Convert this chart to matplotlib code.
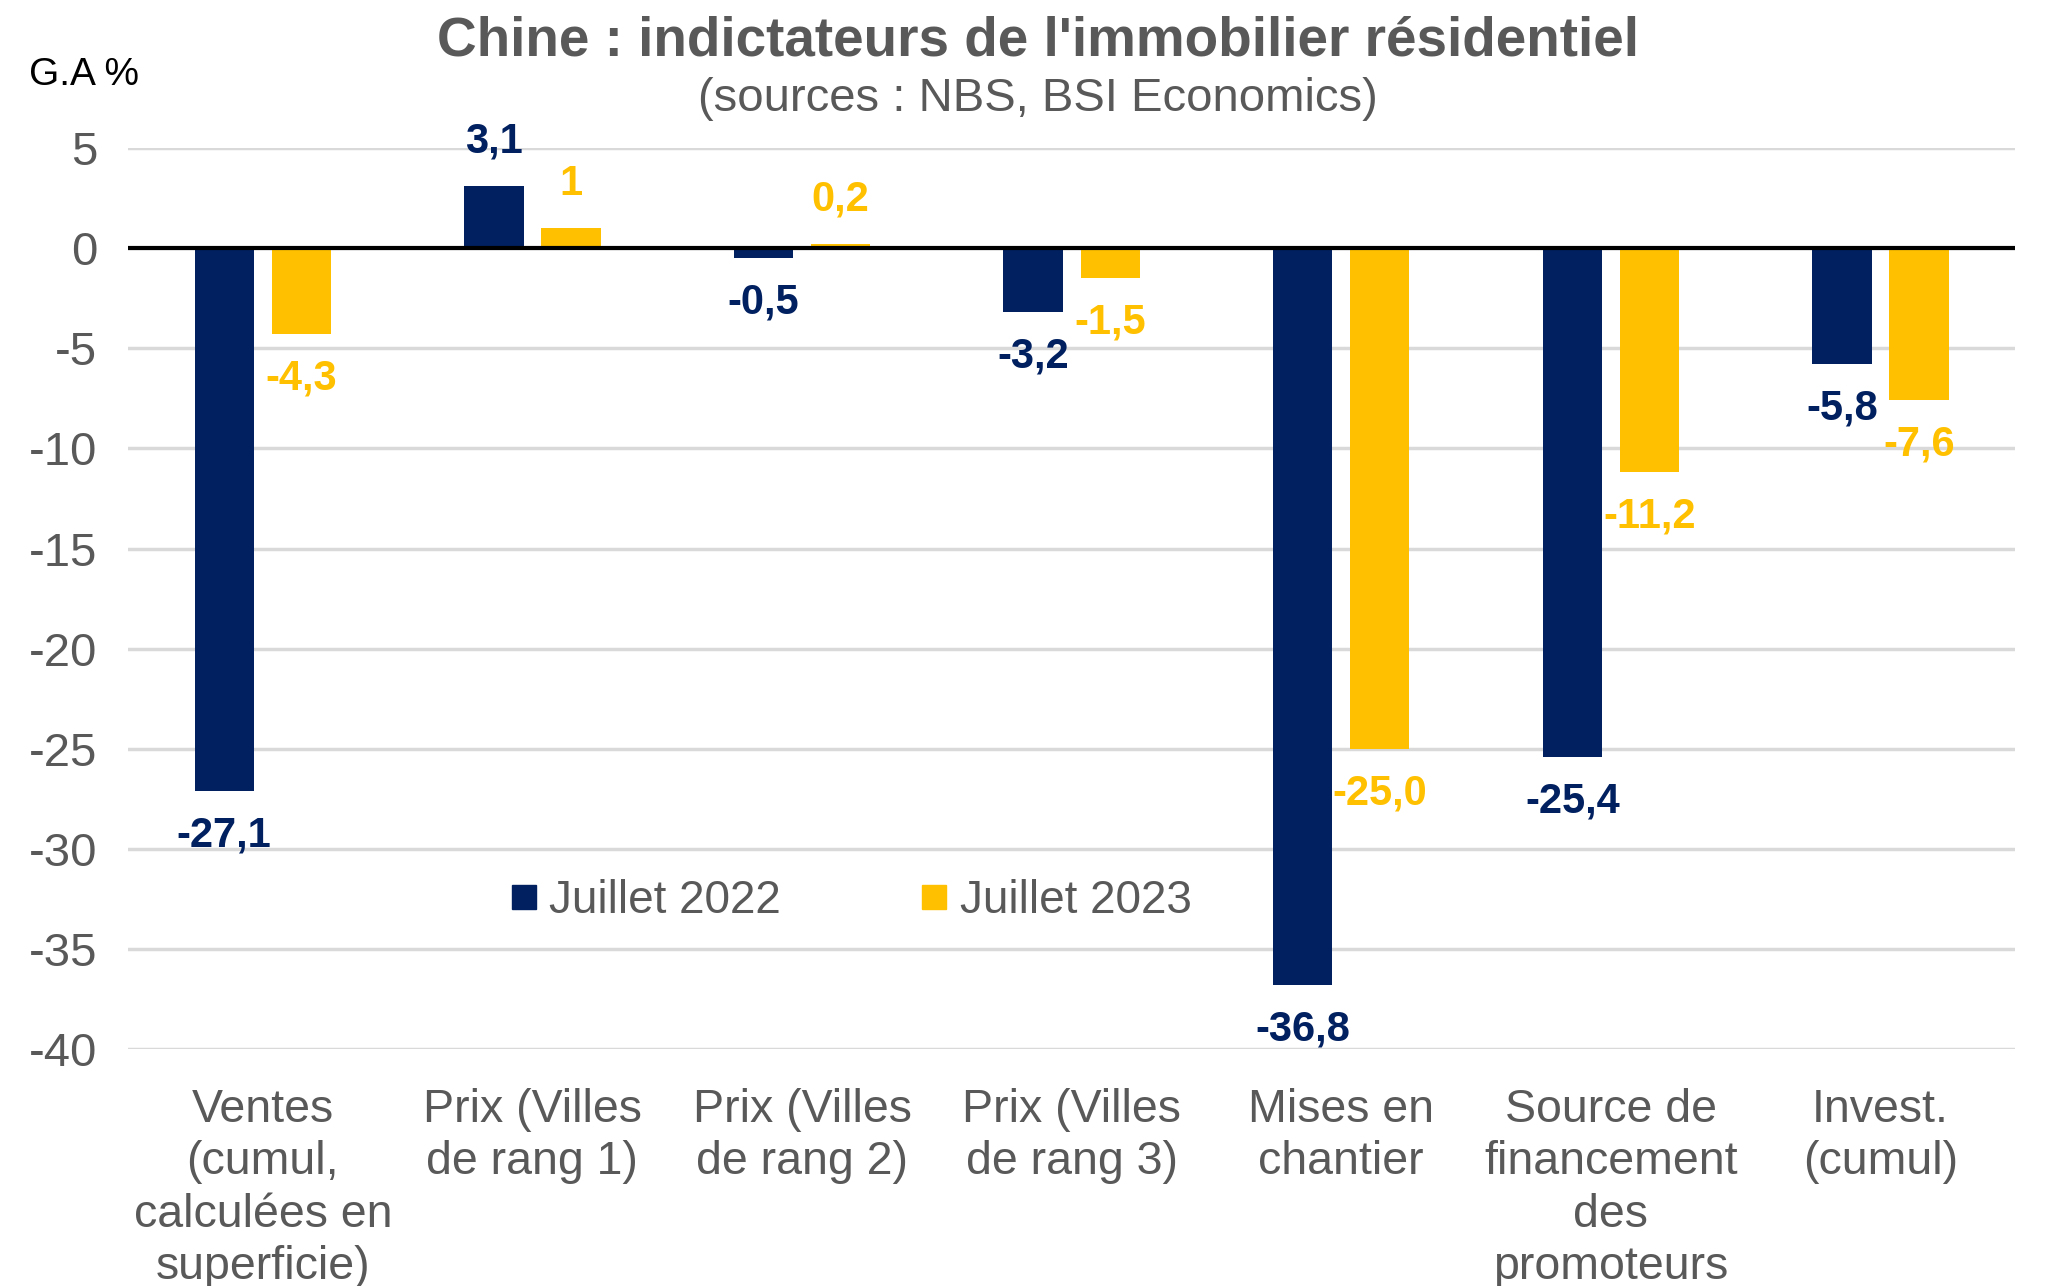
import numpy as np
import matplotlib
matplotlib.use("Agg")
import matplotlib.pyplot as plt
from matplotlib.lines import Line2D

plt.rcParams['font.family'] = ['Liberation Sans', 'DejaVu Sans']

categories = ["Ventes\n(cumul,\ncalculées en\nsuperficie)",
              "Prix (Villes\nde rang 1)",
              "Prix (Villes\nde rang 2)",
              "Prix (Villes\nde rang 3)",
              "Mises en\nchantier",
              "Source de\nfinancement\ndes\npromoteurs",
              "Invest.\n(cumul)"]
juillet_2022 = [-27.1, 3.1, -0.5, -3.2, -36.8, -25.4, -5.8]
juillet_2023 = [-4.3, 1.0, 0.2, -1.5, -25.0, -11.2, -7.6]
labels_2022 = ["-27,1", "3,1", "-0,5", "-3,2", "-36,8", "-25,4", "-5,8"]
labels_2023 = ["-4,3", "1", "0,2", "-1,5", "-25,0", "-11,2", "-7,6"]
yticks = [5, 0, -5, -10, -15, -20, -25, -30, -35, -40]

NAVY = "#002060"
GOLD = "#FFC000"
GREY = "#595959"

fig = plt.figure(figsize=(20.48, 12.86), dpi=100)
ax = fig.add_axes([0.0625, 0.184, 0.9215, 0.701])

x = np.arange(len(categories))
w = 0.22
off = 0.143
ax.bar(x - off, juillet_2022, w, color=NAVY, zorder=3)
ax.bar(x + off, juillet_2023, w, color=GOLD, zorder=3)

for xi, v, s in zip(x - off, juillet_2022, labels_2022):
    ax.annotate(s, (xi, v), xytext=(0, 32 if v >= 0 else -32), textcoords="offset points",
                ha="center", va="center", fontsize=30, fontweight="bold", color=NAVY)
for xi, v, s in zip(x + off, juillet_2023, labels_2023):
    ax.annotate(s, (xi, v), xytext=(0, 32 if v >= 0 else -32), textcoords="offset points",
                ha="center", va="center", fontsize=30, fontweight="bold", color=GOLD)

ax.set_xlim(-0.5, len(categories) - 0.5)
ax.set_ylim(-40, 5)
ax.set_yticks(yticks)
ax.set_yticklabels([str(t) for t in yticks])
ax.set_xticks(x)
ax.set_xticklabels(categories, fontsize=33.5, color=GREY, linespacing=1.24)
ax.tick_params(axis="x", length=0, pad=28)
ax.tick_params(axis="y", length=0, pad=22, labelsize=34, labelcolor=GREY)

ax.grid(axis="y", color="#D9D9D9", linewidth=2.5, zorder=0)
ax.axhline(0, color="black", linewidth=3, zorder=4)
for sp in ax.spines.values():
    sp.set_visible(False)

handles = [Line2D([], [], marker="s", linestyle="none", markersize=17, color=NAVY),
           Line2D([], [], marker="s", linestyle="none", markersize=17, color=GOLD)]
leg = ax.legend(handles, ["Juillet 2022", "Juillet 2023"], ncol=2, frameon=False,
                loc="center", bbox_to_anchor=(0.383, 0.165), fontsize=33,
                handlelength=0.6, handletextpad=0.25, columnspacing=3.05)
for t in leg.get_texts():
    t.set_color(GREY)

fig.text(0.507, 0.968, "Chine : indictateurs de l'immobilier résidentiel", ha="center", va="center",
         fontsize=39.5, fontweight="bold", color=GREY)
fig.text(0.507, 0.923, "(sources : NBS, BSI Economics)", ha="center", va="center",
         fontsize=34, color=GREY)
fig.text(0.014, 0.942, "G.A %", ha="left", va="center", fontsize=28, color="black")

fig.savefig("out.png", dpi=100)
